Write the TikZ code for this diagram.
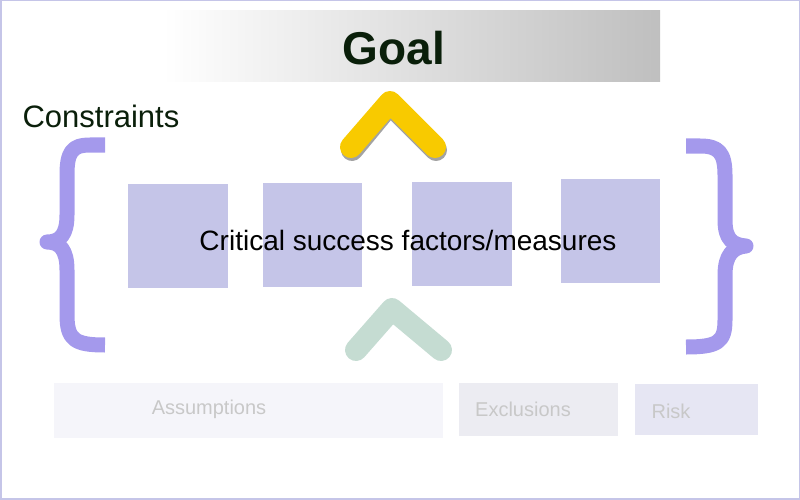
\documentclass[tikz,border=0pt]{standalone}
\usepackage{fontspec}
\setmainfont{Liberation Sans}
\begin{document}
\begin{tikzpicture}[x=1pt,y=-1pt,
  lbl/.style={text=lblc,font=\fontsize{20}{24}\selectfont},
  brace/.style={draw=bracec,line width=15pt,line join=round},
  chev/.style={line width=22pt,line cap=round,line join=round}]
\definecolor{sqc}{HTML}{C5C5E8}
\definecolor{lblc}{HTML}{C8C8C8}
\definecolor{bracec}{HTML}{A499EC}
\definecolor{goaltext}{HTML}{0A1F0A}
\definecolor{chevg}{RGB}{197,220,210}
\definecolor{chevy}{HTML}{F8CA00}
\definecolor{boxa}{RGB}{245,245,250}
\definecolor{boxe}{RGB}{236,236,242}
\definecolor{boxr}{RGB}{230,230,243}
\useasboundingbox (0,0) rectangle (800,500);
\draw[draw=sqc,line width=1.5pt] (0.75,0.75) rectangle (799.25,498.75);
% goal
\shade[left color=white,right color=black!25,draw=none] (163,11) rectangle (660,82);
\node[font=\fontsize{46}{52}\selectfont\bfseries,text=goaltext] (goal) at (394,48) {Goal};
\node[anchor=west,font=\fontsize{31}{36}\selectfont,text=goaltext] (cons) at (19,116) {Constraints};
% chevrons
\draw[chev,draw=black!60,opacity=0.6] (352,150) -- (390,104) -- (436,150);
\draw[chev,draw=chevy] (351,147) -- (390,102) -- (435,147);
\draw[chev,draw=chevg] (356,350) -- (392,309) -- (441,350);
% braces
\draw[brace] (105,145) -- (90,145) .. controls (72,145) and (67,152) .. (67,175) -- (67,215)
  .. controls (67,235) and (60,242) .. (47,242) .. controls (60,242) and (67,250) .. (67,270)
  -- (67,315) .. controls (67,340) and (75,345) .. (105,345);
\draw[brace] (686,146) -- (700,146) .. controls (718,146) and (725,152) .. (725,175) -- (725,220)
  .. controls (725,240) and (733,245) .. (746,246) .. controls (733,247) and (725,255) .. (725,275)
  -- (725,320) .. controls (725,342) and (718,347) .. (686,347);
% squares
\fill[sqc] (128,184) rectangle (228,288);
\fill[sqc] (263,183) rectangle (362,287);
\fill[sqc] (412,182) rectangle (512,286);
\fill[sqc] (561,179) rectangle (660,283);
\node[font=\fontsize{28}{32}\selectfont] (csf) at (408,240) {Critical success factors/measures};
% bottom
\fill[boxa] (54,383) rectangle (443,438);
\fill[boxe] (459,383) rectangle (618,436);
\fill[boxr] (635,384) rectangle (758,435);
\node[lbl] (as) at (209,409) {Assumptions};
\node[lbl] (ex) at (523,409) {Exclusions};
\node[lbl] (rk) at (671,411) {Risk};
\end{tikzpicture}
\end{document}
